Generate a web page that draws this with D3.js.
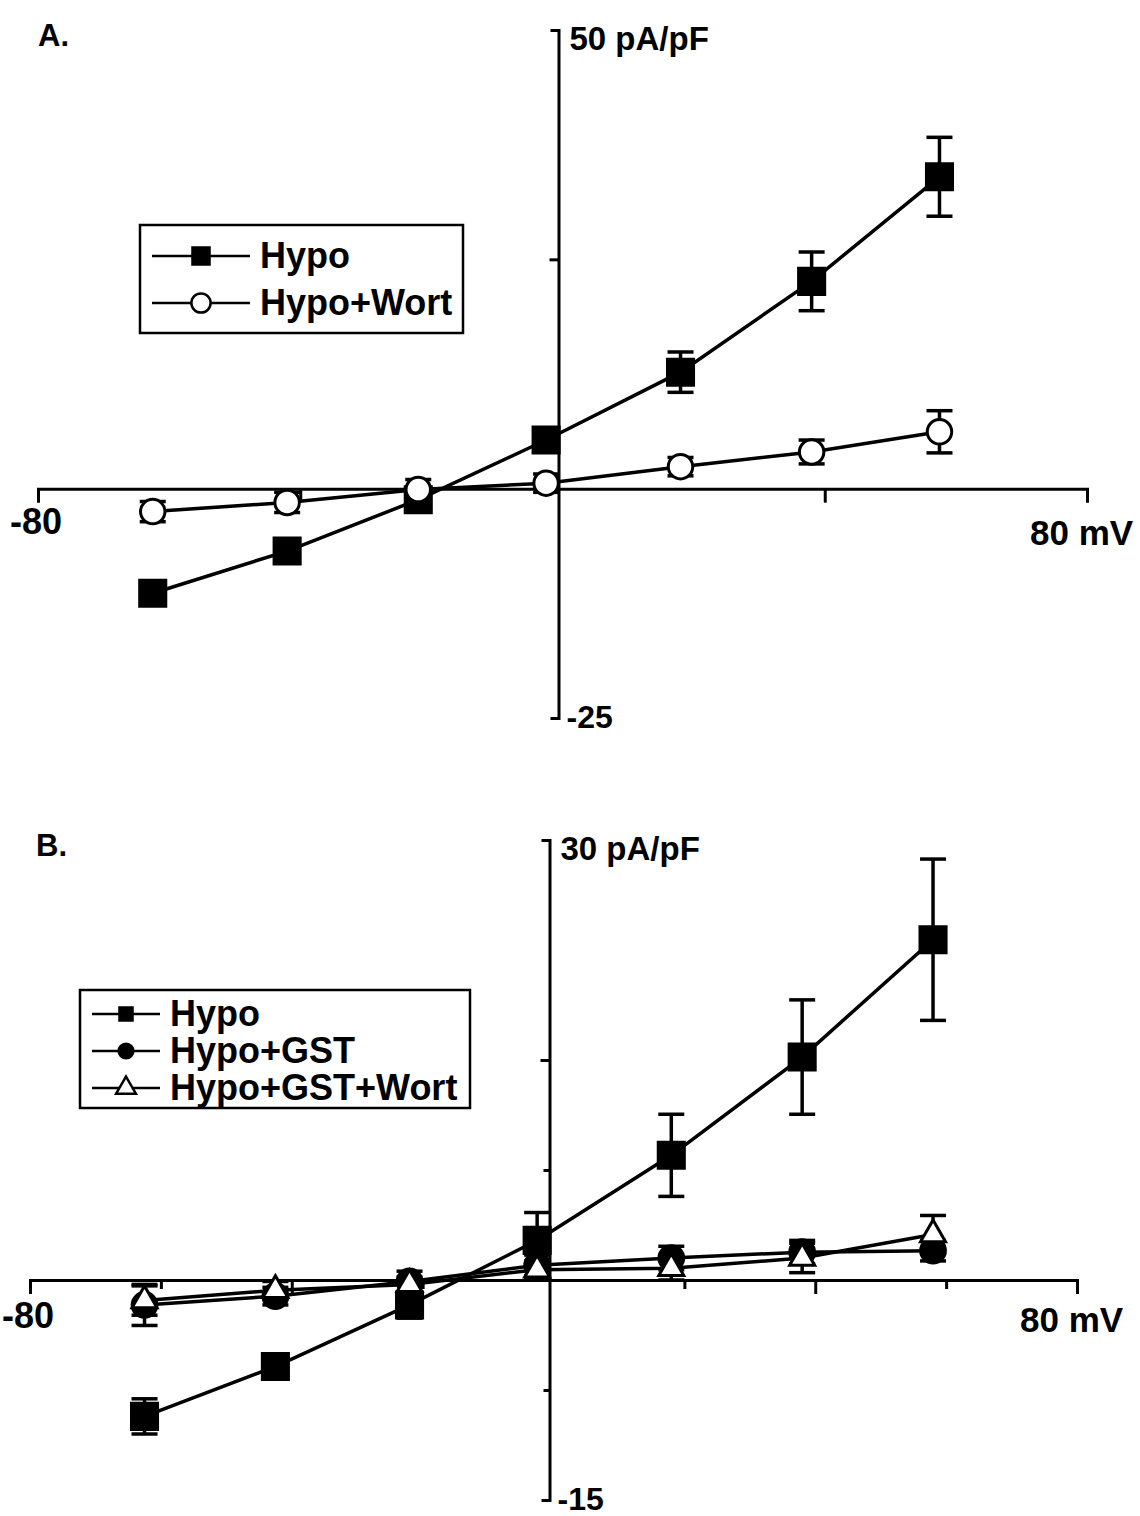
<!DOCTYPE html>
<html>
<head>
<meta charset="utf-8">
<script src="https://cdn.jsdelivr.net/npm/d3@7"></script>
<style>
  body { margin: 0; background: #fff; }
  svg text { font-family: "Liberation Sans", Arial, Helvetica, sans-serif; font-weight: bold; fill: #000; }
</style>
</head>
<body>
<svg id="chart" width="1140" height="1516"></svg>
<script>
// panel A: membrane potential (mV) and current density (pA/pF)
const voltsA = [-62.5, -42, -22, -2.5, 18, 38, 57.5];
const hypoA = [-11.4, -6.8, -1.2, 5.3, 12.7, 22.6, 34.0];
const hypoErrA = [1.2, 1.2, 1.2, 1.2, 2.2, 3.2, 4.3];
const wortA = [-2.5, -1.5, -0.1, 0.6, 2.4, 4.0, 6.2];
const wortErrA = [1.1, 1.1, 1.1, 1.0, 1.0, 1.3, 2.3];

// panel B
const voltsB = [-62.5, -42.5, -22, -2.5, 18, 38, 58];
const hypoB = [-9.3, -5.9, -1.7, 2.7, 8.5, 15.2, 23.2];
const hypoErrB = [1.2, 0.7, 0.9, 1.9, 2.8, 3.9, 5.5];
const gstB = [-1.7, -1.1, -0.1, 1.0, 1.5, 1.9, 2.0];
const gstErrB = [1.4, 0.6, 0.7, 0.7, 0.8, 0.8, 0.7];
const gstWortB = [-1.4, -0.7, -0.3, 0.7, 0.8, 1.5, 3.1];
const gstWortErrB = [1.0, 0.6, 0.5, 0.6, 0.8, 1.0, 1.3];

const svg = d3.select('#chart');

function styleAxis(sel) {
  sel.select('.domain').attr('stroke-width', 3);
  sel.selectAll('.tick line').attr('stroke-width', 3);
}

function drawPanel(p) {
  const x = d3.scaleLinear().domain([-80, 80]).range(p.xRange);
  const y = d3.scaleLinear().domain(p.yDomain).range(p.yRange);
  const g = svg.append('g');

  // x axis through zero current
  g.append('g')
    .attr('transform', `translate(0,${y(0)})`)
    .call(d3.axisBottom(x).tickValues(p.xTicks).tickSize(14).tickSizeOuter(14).tickFormat(''))
    .call(styleAxis);
  if (p.xMinor) {
    g.append('g')
      .attr('transform', `translate(0,${y(0)})`)
      .call(d3.axisBottom(x).tickValues(p.xMinor).tickSize(9).tickFormat(''))
      .call(styleAxis)
      .call(s => s.select('.domain').remove());
  }

  // y axis at 0 mV
  const y0x = x(0) - 4;
  g.append('g')
    .attr('transform', `translate(${y0x},0)`)
    .call(d3.axisLeft(y).tickValues(p.yTicks).tickSize(9).tickSizeOuter(8).tickFormat(''))
    .call(styleAxis);
  if (p.yMinor) {
    g.append('g')
      .attr('transform', `translate(${y0x},0)`)
      .call(d3.axisLeft(y).tickValues(p.yMinor).tickSize(6).tickFormat(''))
      .call(styleAxis)
      .call(s => s.select('.domain').remove());
  }

  const top = p.yDomain[1], bottom = p.yDomain[0];
  g.append('text').attr('x', y0x + 11).attr('y', y(top) + 20)
    .attr('font-size', 33).text(top + ' pA/pF');
  g.append('text').attr('x', y0x + 8).attr('y', y(bottom) + 10)
    .attr('font-size', 32).text(bottom);
  g.append('text').attr('x', x(-80) - 28).attr('y', y(0) + p.negLabelDy)
    .attr('font-size', 36).text('-80');
  g.append('text').attr('x', x(80) - 57).attr('y', y(0) + p.posLabelDy)
    .attr('font-size', 35).text('80 mV');
  g.append('text').attr('x', p.panelPos[0]).attr('y', p.panelPos[1])
    .attr('font-size', 31).text(p.panel);

  const line = d3.line();
  p.series.forEach(s => {
    const pts = s.volts.map((v, i) => [x(v), y(s.vals[i])]);
    g.append('path').attr('d', line(pts))
      .attr('fill', 'none').attr('stroke', '#000').attr('stroke-width', 3.5);
  });

  // error bars
  p.series.forEach(s => {
    const eb = g.append('g').attr('stroke', '#000').attr('stroke-width', 3.5);
    s.volts.forEach((v, i) => {
      const cx = x(v), hi = y(s.vals[i] + s.errs[i]), lo = y(s.vals[i] - s.errs[i]);
      eb.append('line').attr('x1', cx).attr('x2', cx).attr('y1', hi).attr('y2', lo);
      eb.append('line').attr('x1', cx - 13).attr('x2', cx + 13).attr('y1', hi).attr('y2', hi);
      eb.append('line').attr('x1', cx - 13).attr('x2', cx + 13).attr('y1', lo).attr('y2', lo);
    });
  });

  // markers
  p.series.forEach(s => {
    g.append('g').selectAll('path')
      .data(s.vals)
      .join('path')
      .attr('transform', (d, i) => `translate(${x(s.volts[i])},${y(d)})`)
      .attr('d', d3.symbol(s.symbol, s.size)())
      .attr('fill', s.fill).attr('stroke', '#000').attr('stroke-width', 3);
  });

  // legend
  const L = p.legend;
  g.append('rect').attr('x', L.x).attr('y', L.y).attr('width', L.w).attr('height', L.h)
    .attr('fill', '#fff').attr('stroke', '#000').attr('stroke-width', 2.5);
  p.series.forEach((s, i) => {
    const ry = L.y + L.row0 + i * L.step;
    g.append('line').attr('x1', L.x + 12).attr('x2', L.textX - 10).attr('y1', ry).attr('y2', ry)
      .attr('stroke', '#000').attr('stroke-width', 2.5);
    g.append('path').attr('transform', `translate(${(L.x + 12 + L.textX - 10) / 2},${ry})`)
      .attr('d', d3.symbol(s.symbol, L.symSize)())
      .attr('fill', s.fill).attr('stroke', '#000').attr('stroke-width', 2.5);
    g.append('text').attr('x', L.textX).attr('y', ry + 12)
      .attr('font-size', 36).text(s.name);
  });
}

drawPanel({
  panel: 'A.', panelPos: [38, 46],
  xRange: [38, 1087], yDomain: [-25, 50], yRange: [718, 30],
  xTicks: [-40, 40], yTicks: [25],
  negLabelDy: 45, posLabelDy: 56,
  legend: { x: 140, y: 225, w: 323, h: 108, row0: 31, step: 47, textX: 260, symSize: 290 },
  series: [
    { name: 'Hypo', volts: voltsA, vals: hypoA, errs: hypoErrA, symbol: d3.symbolSquare, size: 680, fill: '#000' },
    { name: 'Hypo+Wort', volts: voltsA, vals: wortA, errs: wortErrA, symbol: d3.symbolCircle, size: 470, fill: '#fff' }
  ]
});

drawPanel({
  panel: 'B.', panelPos: [36, 856],
  xRange: [30, 1077], yDomain: [-15, 30], yRange: [1500, 840],
  xTicks: [-40, 40], xMinor: [-60, -20, 20, 60], yTicks: [15], yMinor: [7.5, -7.5],
  negLabelDy: 48, posLabelDy: 52,
  legend: { x: 80, y: 990, w: 390, h: 118, row0: 24, step: 37, textX: 170, symSize: 170 },
  series: [
    { name: 'Hypo', volts: voltsB, vals: hypoB, errs: hypoErrB, symbol: d3.symbolSquare, size: 680, fill: '#000' },
    { name: 'Hypo+GST', volts: voltsB, vals: gstB, errs: gstErrB, symbol: d3.symbolCircle, size: 480, fill: '#000' },
    { name: 'Hypo+GST+Wort', volts: voltsB, vals: gstWortB, errs: gstWortErrB, symbol: d3.symbolTriangle, size: 270, fill: '#fff' }
  ]
});
</script>
</body>
</html>
